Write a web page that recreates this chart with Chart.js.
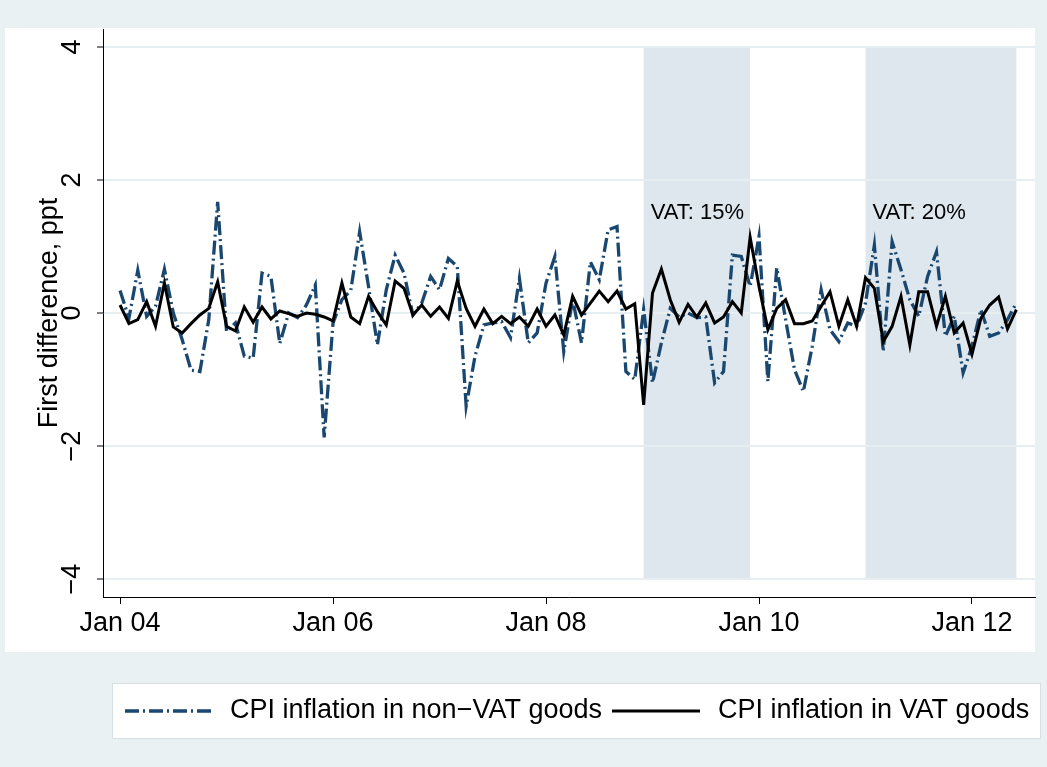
<!DOCTYPE html>
<html>
<head>
<meta charset="utf-8">
<script src="https://cdn.jsdelivr.net/npm/chart.js@4"></script>
<style>
  html, body { margin: 0; padding: 0; background: #eaf1f3; }
  #wrap { width: 1047px; height: 767px; }
</style>
</head>
<body>
<div id="wrap"><canvas id="chart" width="1047" height="767"></canvas></div>
<script>
// monthly first differences, Jan 2004 .. Jun 2012 (ppt)
const nonVatGoods = [
  0.34, -0.08, 0.64, -0.05, 0.10, 0.66, 0.00, -0.40, -0.86, -0.88, -0.10, 1.67,
  -0.28, -0.15, -0.65, -0.68, 0.60, 0.55, -0.46, 0.00, -0.07, 0.12, 0.42, -1.87,
  -0.15, 0.20, 0.34, 1.22, 0.40, -0.48, 0.35, 0.87, 0.60, -0.03, 0.15, 0.55,
  0.35, 0.82, 0.70, -1.40, -0.65, -0.18, -0.15, -0.13, -0.37, 0.52, -0.45, -0.30,
  0.45, 0.85, -0.58, 0.20, -0.45, 0.77, 0.50, 1.25, 1.30, -0.88, -1.00, 0.05,
  -1.05, -0.45, 0.07, -0.06, 0.00, -0.07, -0.06, -1.05, -0.88, 0.87, 0.85, 0.40,
  1.15, -1.03, 0.68, -0.10, -0.85, -1.18, -0.50, 0.35, -0.25, -0.43, -0.15, -0.20,
  0.15, 1.02, -0.58, 1.07, 0.65, 0.20, -0.05, 0.55, 0.92, -0.35, -0.05, -0.90,
  -0.50, 0.05, -0.35, -0.30, -0.10, 0.15
];
const vatGoods = [
  0.12, -0.16, -0.10, 0.17, -0.20, 0.45, -0.21, -0.30, -0.16, -0.03, 0.07, 0.47,
  -0.20, -0.27, 0.09, -0.14, 0.09, -0.09, 0.03, -0.01, -0.05, 0.00, -0.02, -0.06,
  -0.12, 0.45, -0.06, -0.16, 0.25, 0.02, -0.18, 0.48, 0.37, -0.03, 0.12, -0.05,
  0.09, -0.08, 0.48, 0.07, -0.20, 0.06, -0.16, -0.05, -0.16, -0.06, -0.20, 0.06,
  -0.20, -0.03, -0.33, 0.25, -0.03, 0.15, 0.33, 0.17, 0.33, 0.06, 0.14, -1.38,
  0.30, 0.66, 0.20, -0.14, 0.13, -0.06, 0.15, -0.15, -0.06, 0.17, 0.00, 1.14,
  0.40, -0.25, 0.07, 0.20, -0.16, -0.16, -0.12, 0.10, 0.32, -0.20, 0.20, -0.20,
  0.53, 0.37, -0.43, -0.20, 0.25, -0.48, 0.32, 0.32, -0.20, 0.25, -0.30, -0.15,
  -0.62, -0.08, 0.12, 0.24, -0.24, 0.05
];
const xTickPos = [0, 24, 48, 72, 96];
const xTickLabels = ['Jan 04', 'Jan 06', 'Jan 08', 'Jan 10', 'Jan 12'];
const yTicks = [-4, -2, 0, 2, 4];
// VAT periods (month index from Jan 04)
const shadeStart = [59, 84];
const shadeEnd = [71, 101];
const shadeLabels = ['VAT: 15%', 'VAT: 20%'];
const shadeLabelY = 1.5;

const months = nonVatGoods.map((v, i) => i);
const font = 'Liberation Sans, Arial, sans-serif';

const backdrop = {
  id: 'backdrop',
  beforeDraw(chart) {
    const ctx = chart.ctx;
    const x = chart.scales.x, y = chart.scales.y;
    ctx.save();
    ctx.fillStyle = '#ffffff';
    ctx.fillRect(5, 28, 1030, 624);
    ctx.fillStyle = '#dde7ed';
    for (let i = 0; i < shadeStart.length; i++) {
      const x0 = x.getPixelForValue(shadeStart[i]);
      const x1 = x.getPixelForValue(shadeEnd[i]);
      const y0 = y.getPixelForValue(4);
      const y1 = y.getPixelForValue(-4);
      ctx.fillRect(x0, y0, x1 - x0, y1 - y0);
    }
    ctx.fillStyle = '#000';
    ctx.font = '22px ' + font;
    ctx.textBaseline = 'middle';
    ctx.textAlign = 'left';
    for (let i = 0; i < shadeStart.length; i++) {
      ctx.fillText(shadeLabels[i], x.getPixelForValue(shadeStart[i]) + 7, y.getPixelForValue(shadeLabelY));
    }
    ctx.restore();
  },
  afterDraw(chart) {
    const ctx = chart.ctx;
    ctx.save();
    ctx.fillStyle = '#ffffff';
    ctx.fillRect(112, 683, 928, 55);
    ctx.strokeStyle = '#d6e0e4';
    ctx.lineWidth = 1;
    ctx.strokeRect(112.5, 683.5, 928, 55);
    const items = [{x0: 125, x1: 215, tx: 230}, {x0: 612, x1: 700, tx: 718}];
    chart.data.datasets.forEach((ds, i) => {
      const it = items[i];
      ctx.strokeStyle = ds.borderColor;
      ctx.lineWidth = ds.borderWidth;
      ctx.setLineDash(ds.borderDash || []);
      ctx.beginPath();
      ctx.moveTo(it.x0, 711);
      ctx.lineTo(it.x1, 711);
      ctx.stroke();
      ctx.setLineDash([]);
      ctx.fillStyle = '#000';
      ctx.font = '27px ' + font;
      ctx.textBaseline = 'middle';
      ctx.fillText(ds.label, it.tx, 711);
    });
    ctx.restore();
  }
};

const ctx = document.getElementById('chart');
new Chart(ctx, {
  type: 'line',
  data: {
    datasets: [{
      label: 'CPI inflation in non\u2212VAT goods',
      data: months.map((m, i) => ({x: m, y: nonVatGoods[i]})),
      borderColor: '#1a476f',
      borderWidth: 3.3,
      borderDash: [14, 4, 2, 4],
      pointRadius: 0,
      tension: 0,
      fill: false,
      order: 1
    }, {
      label: 'CPI inflation in VAT goods',
      data: months.map((m, i) => ({x: m, y: vatGoods[i]})),
      borderColor: '#000000',
      borderWidth: 3,
      pointRadius: 0,
      tension: 0,
      fill: false,
      order: 0
    }]
  },
  options: {
    responsive: false,
    animation: false,
    layout: { padding: { left: 0, right: 12, top: 29, bottom: 110 } },
    plugins: { legend: { display: false }, tooltip: { enabled: false } },
    scales: {
      x: {
        type: 'linear',
        min: -1.92,
        max: 103.1,
        afterBuildTicks: s => { s.ticks = xTickPos.map(v => ({value: v})); },
        afterFit: s => { s.height = 60; },
        ticks: {
          autoSkip: false, maxRotation: 0, minRotation: 0, padding: 3,
          color: '#000', font: { family: font, size: 27 },
          callback: (v, i) => xTickLabels[i]
        },
        grid: { drawOnChartArea: false, tickColor: '#000', tickLength: 7 },
        border: { color: '#000', width: 1 }
      },
      y: {
        min: -4.27,
        max: 4.27,
        afterBuildTicks: s => { s.ticks = yTicks.map(v => ({value: v})); },
        afterFit: s => { s.width = 103; },
        ticks: {
          minRotation: 90, maxRotation: 90, crossAlign: 'center', padding: 9,
          color: '#000', font: { family: font, size: 27 },
          callback: v => String(v).replace('-', '\u2212')
        },
        grid: { color: '#e6eef1', lineWidth: 2, tickColor: '#000', tickLength: 6, tickWidth: 1 },
        border: { color: '#000', width: 1 },
        title: {
          display: true, text: 'First difference, ppt', color: '#000',
          font: { family: font, size: 27 }, padding: { top: 33, bottom: 0 }
        }
      }
    }
  },
  plugins: [backdrop]
});
</script>
</body>
</html>
